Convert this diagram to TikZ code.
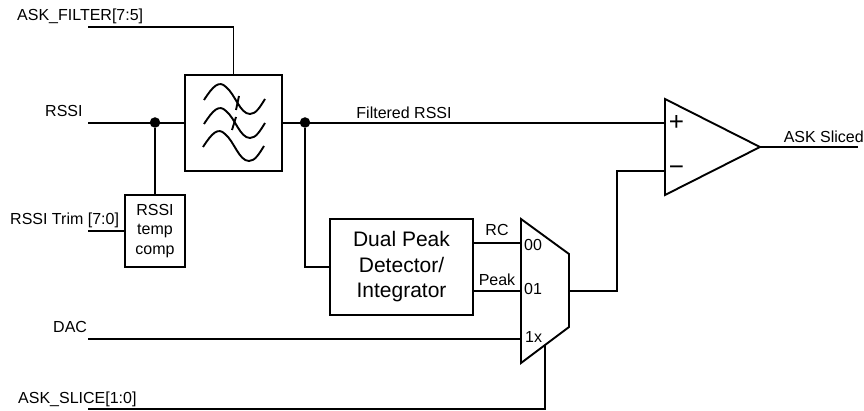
\documentclass[tikz,border=0pt]{standalone}
\usepackage{fontspec}
\setmainfont{Liberation Sans}
\tikzset{
	wire/.style={line width=1.9pt},
	block/.style={draw,line width=2pt,fill=white,inner sep=0pt,align=center},
	lbl/.style={inner sep=0pt,font=\fontsize{16}{19}\selectfont},
	port/.style={lbl,anchor=west},
	sign/.style={inner sep=0pt,font=\fontsize{26}{26}\selectfont},
	dot/.style={circle,fill=black,inner sep=0pt,minimum size=10.5pt},
}
\begin{document}
\begin{tikzpicture}[x=1pt,y=-1pt]
	\useasboundingbox (0,0) rectangle (864,411);
	%--
	\node[block,minimum width=97pt,minimum height=96pt] (filter) at (233.5,123) {};
	\node[block,minimum width=60pt,minimum height=72pt,font=\fontsize{16}{19.5}\selectfont] (comp) at (155,231) {RSSI\\temp\\comp};
	\node[block,minimum width=143pt,minimum height=96pt,font=\fontsize{21}{25.5}\selectfont] (peak) at (401.5,267) {Dual Peak\\Detector/\\Integrator};
	%--
	\coordinate (M1) at (521,219);
	\coordinate (M2) at (569,254);
	\coordinate (M3) at (569,327);
	\coordinate (M4) at (521,363);
	\draw[wire] (M1) -- (M2) -- (M3) -- (M4) -- cycle;
	\coordinate (A1) at (665,99);
	\coordinate (A2) at (760,147);
	\coordinate (A3) at (665,195);
	\draw[wire] (A1) -- (A2) -- (A3) -- cycle;
	%--
	\foreach \y/\x in {0/0,24/0,47/-1}
		\draw[wire,shift={(\x,\y)}] (204,100) .. controls (213,86) and (219,80) .. (226,87) .. controls (235,94) and (240,114) .. (250,114) .. controls (256,114) and (260,107) .. (265,99);
	\draw[wire] (236,110) -- (239,96);
	\draw[wire] (232,130) -- (236,117);
	%--
	\node[port] (fltlbl) at (17,16.5) {ASK\_FILTER[7:5]};
	\node[port] (rssilbl) at (45,111) {RSSI};
	\node[port] (trimlbl) at (10,220) {RSSI Trim [7:0]};
	\node[port] (daclbl) at (53,327) {DAC};
	\node[port] (slclbl) at (18,399) {ASK\_SLICE[1:0]};
	\node[lbl] (fltrssi) at (404,113) {Filtered RSSI};
	\node[lbl] (rclbl) at (497,230) {RC};
	\node[lbl] (pklbl) at (497,280) {Peak};
	\node[port] (m00) at (524,245) {00};
	\node[port] (m01) at (524,289) {01};
	\node[port] (m1x) at (525,337) {1x};
	\node[lbl,anchor=east] (outlbl) at (864,137) {ASK Sliced};
	\node[sign] (plus) at (676.5,123) {+};
	\node[sign] (minus) at (676.5,171) {−};
	%--
	\coordinate (fltin) at (88,27);
	\coordinate (rssiin) at (88,123);
	\coordinate (trimin) at (88,231);
	\coordinate (dacin) at (88,339);
	\coordinate (slcin) at (88,409);
	\coordinate (outend) at (858,147);
	\node[dot] (d1) at (155,122.5) {};
	\node[dot] (d2) at (305,122.5) {};
	%--
	\draw[wire] (fltin) -| (filter.north);
	\draw[wire] (rssiin) -- (filter.west |- rssiin);
	\draw[wire] (d1) -- (comp.north);
	\draw[wire] (trimin) -- (comp.west |- trimin);
	\draw[wire] (filter.east |- rssiin) -- (A1 |- rssiin);
	\draw[wire] (d2) |- (peak.west);
	\draw[wire] (peak.east |- 0,243) -- (M1 |- 0,243);
	\draw[wire] (peak.east |- 0,291) -- (M1 |- 0,291);
	\draw[wire] (dacin) -- (M1 |- dacin);
	\draw[wire] (slcin) -| (545,345);
	\draw[wire] (M2 |- 0,291) -| (617,171) -- (A1 |- 0,171);
	\draw[wire] (A2) -- (outend);
\end{tikzpicture}
\end{document}
